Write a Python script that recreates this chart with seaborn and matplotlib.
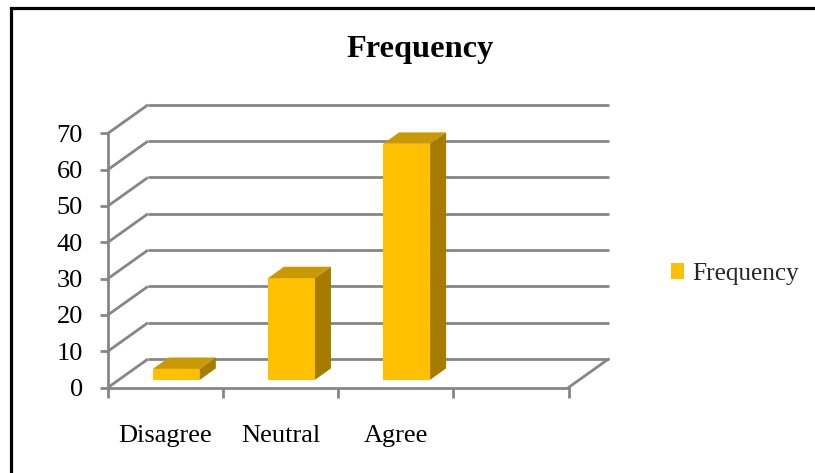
import matplotlib
matplotlib.use("Agg")
import matplotlib.pyplot as plt
from matplotlib.lines import Line2D
from matplotlib.patches import Polygon, Patch
import seaborn as sns

categories = ["Disagree", "Neutral", "Agree"]
values = [3, 28, 65]
y_ticks = [0, 10, 20, 30, 40, 50, 60, 70]
series_name = "Frequency"
title = "Frequency"

W, H = 815, 473
sns.set_theme(style="white")
plt.rcParams["font.family"] = ["Liberation Serif", "DejaVu Serif"]

fig = plt.figure(figsize=(W / 100, H / 100), dpi=100)
fig.patch.set_facecolor("white")

# plot area (front plane) in pixels
left_px, right_px = 108, 568.5
zero_px, top_px = 387.5, 133.3
ax = fig.add_axes([left_px / W, 1 - zero_px / H,
                   (right_px - left_px) / W, (zero_px - top_px) / H])
ax.set_xlim(-0.5, 3.5)
ax.set_ylim(0, 70)

GRID = "#868686"
FRONT, TOP, SIDE = "#FFC000", "#C99A06", "#A67C00"

px_x = 4.0 / (right_px - left_px)     # data units per pixel (x)
px_y = 70.0 / (zero_px - top_px)      # data units per pixel (y)
depth_dx, depth_dy = 40 * px_x, 28.5 * px_y   # full oblique depth

# back wall gridlines and side-wall diagonals
for v in y_ticks:
    ax.plot([-0.5, -0.5 + depth_dx], [v, v + depth_dy], color=GRID, lw=2.0,
            clip_on=False, zorder=1, solid_capstyle="butt")
    ax.plot([-0.5 + depth_dx, 3.5 + depth_dx], [v + depth_dy, v + depth_dy],
            color=GRID, lw=2.0, clip_on=False, zorder=1, solid_capstyle="butt")
# floor right edge
ax.plot([3.5, 3.5 + depth_dx], [0, depth_dy], color=GRID, lw=2.0,
        clip_on=False, zorder=1)

# bars
sns.barplot(x=categories, y=values, color=FRONT, width=0.408,
            saturation=1, ax=ax, zorder=3)
ax.set_xlim(-0.5, 3.5)
ax.set_ylim(0, 70)

d0, d1 = 0.27, 0.40   # bar start depth and bar depth (fractions)
ox, oy = d0 * depth_dx, d0 * depth_dy
bx, by = d1 * depth_dx, d1 * depth_dy
for p in list(ax.patches):
    x0 = p.get_x() + ox
    w = p.get_width()
    h = p.get_height()
    p.set_x(x0)
    p.set_y(oy)
    p.set_edgecolor("none")
    y0, y1 = oy, oy + h
    top = Polygon([(x0, y1), (x0 + w, y1), (x0 + w + bx, y1 + by), (x0 + bx, y1 + by)],
                  closed=True, facecolor=TOP, edgecolor="none", zorder=3, clip_on=False)
    side = Polygon([(x0 + w, y0), (x0 + w + bx, y0 + by), (x0 + w + bx, y1 + by), (x0 + w, y1)],
                   closed=True, facecolor=SIDE, edgecolor="none", zorder=3, clip_on=False)
    ax.add_patch(top)
    ax.add_patch(side)

# axes styling
for s in ["top", "right"]:
    ax.spines[s].set_visible(False)
for s in ["left", "bottom"]:
    ax.spines[s].set_color(GRID)
    ax.spines[s].set_linewidth(2.0)
    ax.spines[s].set_zorder(2)
ax.grid(False)
ax.set_yticks(y_ticks)
ax.set_yticklabels([str(v) for v in y_ticks])
ax.tick_params(axis="y", direction="out", length=6, width=2.0, color=GRID,
               labelsize=19, labelcolor="black", pad=12, left=True)
ax.set_xticks([-0.5, 0.5, 1.5, 2.5, 3.5])
ax.set_xticklabels([])
ax.set_xticks([0, 1, 2], minor=True)
ax.set_xticklabels(categories, minor=True)
ax.tick_params(axis="x", which="major", direction="out", length=7, width=2.0,
               color=GRID, bottom=True)
ax.tick_params(axis="x", which="minor", length=0, labelsize=19,
               labelcolor="black", pad=27)
ax.set_xlabel("")
ax.set_ylabel("")
ax.patch.set_alpha(0)

# title
fig.text(420 / W, 1 - 56.7 / H, title, ha="center", va="baseline",
         fontsize=23.3, fontweight="bold", color="black")

# legend
handle = Patch(facecolor=FRONT, edgecolor="none")
fig.legend(handles=[handle], labels=[series_name], loc="center left",
           bbox_to_anchor=(670.5 / W, 1 - 274 / H), frameon=False,
           fontsize=18.2, handlelength=0.55, handleheight=0.55,
           handletextpad=0.3, borderpad=0, borderaxespad=0)

# outer frame (top and left edges)
fig.add_artist(Line2D([10.8 / W, 1], [1 - 8 / H, 1 - 8 / H], color="black",
                      lw=2.3, transform=fig.transFigure))
fig.add_artist(Line2D([10.8 / W, 10.8 / W], [0, 1 - 8 / H], color="black",
                      lw=2.3, transform=fig.transFigure, solid_capstyle="projecting"))

fig.savefig("out.png", dpi=100)
